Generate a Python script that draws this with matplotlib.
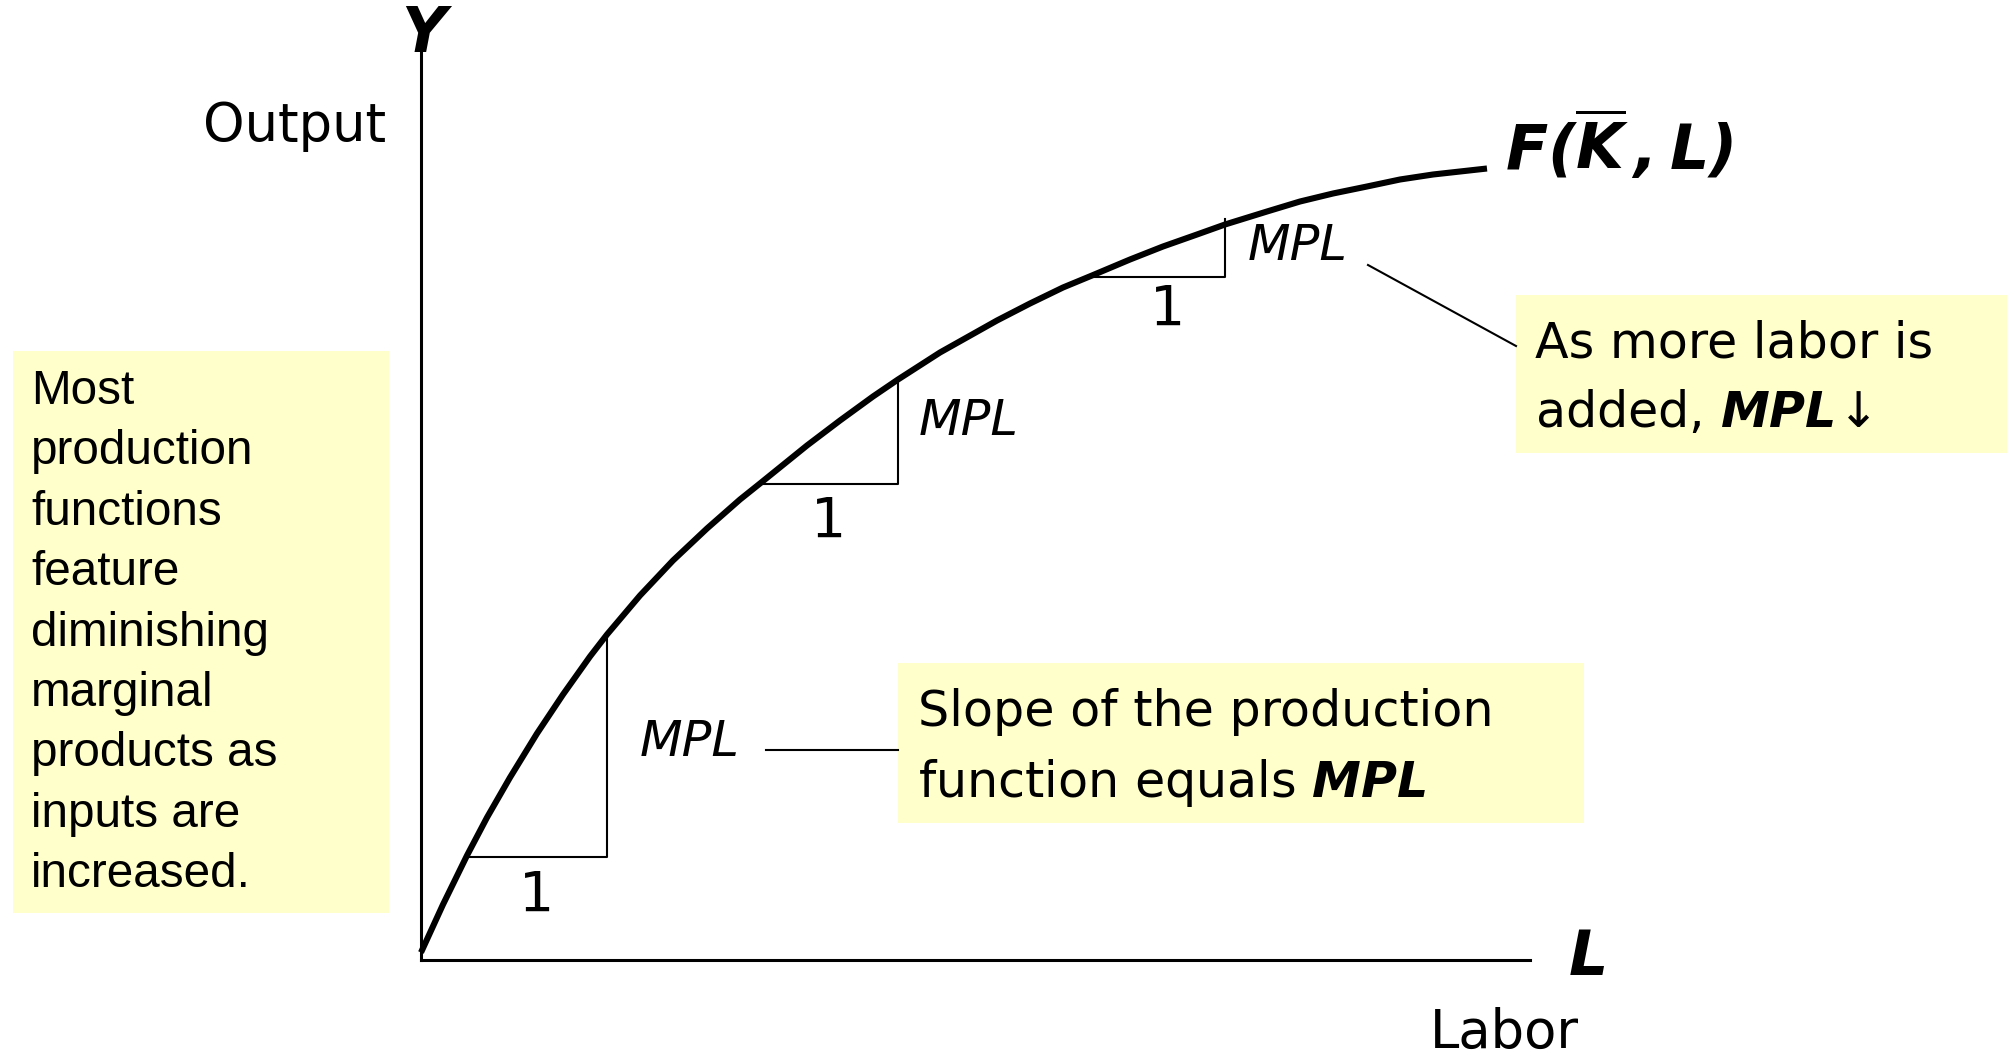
import matplotlib
matplotlib.use("Agg")
import matplotlib.pyplot as plt
from matplotlib import transforms as mtransforms
from matplotlib.patches import Rectangle
from matplotlib.lines import Line2D

# ---------------- data (labor / output units) ----------------
labor = [0.00, 0.22, 0.46, 0.66, 0.89, 1.16, 1.42, 1.69, 1.86, 2.19, 2.52, 2.86,
         3.19, 3.39, 3.86, 4.19, 4.52, 4.77, 5.19, 5.76, 6.09, 6.42, 6.71, 7.09,
         7.42, 7.76, 8.04, 8.46, 8.79, 9.12, 9.46, 9.79, 10.12, 10.66]
output = [0.07, 0.55, 1.04, 1.42, 1.82, 2.26, 2.65, 3.03, 3.25, 3.64, 3.99, 4.31,
          4.60, 4.76, 5.14, 5.39, 5.63, 5.80, 6.07, 6.39, 6.56, 6.72, 6.84, 7.00,
          7.13, 7.25, 7.35, 7.48, 7.58, 7.66, 7.73, 7.80, 7.85, 7.91]

tri_start = [0.46, 3.39, 6.71]   # labor where each unit step starts
tri_end = [1.86, 4.77, 8.04]     # labor where each unit step ends
tri_base = [1.03, 4.76, 6.83]    # output at the start of the step
tri_top = [3.25, 5.80, 7.41]     # output at the end of the step

run_labels = ["1", "1", "1"]
rise_labels = ["MPL", "MPL", "MPL"]
curve_label = r"$\mathbfit{F(\overline{K}\,,L)}$"
x_symbol, y_symbol = "L", "Y"
x_name, y_name = "Labor", "Output"

left_note = ["Most", "production", "functions", "feature", "diminishing",
             "marginal", "products as", "inputs are", "increased."]
slope_note = ["Slope of the production", r"function equals $\mathbfit{MPL}$"]
diminish_note = ["As more labor is", r"added, $\mathbfit{MPL}\!\downarrow$"]

# ---------------- style ----------------
plt.rcParams.update({
    "font.family": ["DejaVu Sans"],
    "mathtext.fontset": "custom",
    "mathtext.rm": "DejaVu Sans",
    "mathtext.it": "DejaVu Sans:italic",
    "mathtext.bf": "DejaVu Sans:bold",
    "mathtext.bfit": "DejaVu Sans:italic:bold",
    "mathtext.sf": "DejaVu Sans",
})

W, H = 2008, 1055
fig = plt.figure(figsize=(W / 100, H / 100), dpi=100)
fig.patch.set_facecolor("white")
px = mtransforms.Affine2D().scale(1 / W, -1 / H).translate(0, 1) + fig.transFigure

ox, oy = 421, 959.5      # origin (pixels)
xr, yt = 1530, 47        # axis ends (pixels)
ax = fig.add_axes([ox / W, 1 - oy / H, (xr - ox) / W, (oy - yt) / H])
ax.set_xlim(0, (xr - ox) / 100)
ax.set_ylim(0, (oy - yt) / 100)
ax.patch.set_alpha(0)
for s in ["top", "right"]:
    ax.spines[s].set_visible(False)
for s in ["left", "bottom"]:
    ax.spines[s].set_linewidth(2.2)
    ax.spines[s].set_color("black")
ax.set_xticks([])
ax.set_yticks([])

# production function
ax.plot(labor, output, color="black", lw=4.4, solid_joinstyle="round",
        solid_capstyle="butt", clip_on=False, zorder=4)

# unit-step triangles
run_offsets = [(0, -39), (0, -38), (9, -33)]
rise_offsets = [(83, 3), (71, 11), (73, 1)]
for i in range(len(tri_start)):
    ax.plot([tri_start[i], tri_end[i], tri_end[i]],
            [tri_base[i], tri_base[i], tri_top[i]],
            color="black", lw=1.5, zorder=3, clip_on=False)
    ax.annotate(run_labels[i], xy=((tri_start[i] + tri_end[i]) / 2, tri_base[i]),
                xytext=run_offsets[i], textcoords="offset pixels",
                ha="center", va="center", fontsize=40)
    ax.annotate(rise_labels[i], xy=(tri_end[i], (tri_base[i] + tri_top[i]) / 2),
                xytext=rise_offsets[i], textcoords="offset pixels",
                ha="center", va="center", fontsize=35.6, style="italic")

# axis symbols and names
ax.text(423, 35, y_symbol, transform=px, fontsize=44.6, fontweight="bold",
        style="italic", ha="center", va="center", clip_on=False)
ax.text(1588, 958, x_symbol, transform=px, fontsize=44.6, fontweight="bold",
        style="italic", ha="center", va="center", clip_on=False)
ax.text(295, 141, y_name, transform=px, fontsize=38, ha="center",
        va="baseline", clip_on=False)
ax.text(1504, 1048, x_name, transform=px, fontsize=38, ha="center",
        va="baseline", clip_on=False)
ax.text(1505, 170, curve_label, transform=px, fontsize=44.6, ha="left",
        va="baseline", clip_on=False)

# note boxes
box_color = "#FFFFCC"
ax.add_patch(Rectangle((13, 351), 376, 562, transform=px, facecolor=box_color,
                       edgecolor="none", clip_on=False, zorder=0))
ax.add_patch(Rectangle((898, 663), 686, 160, transform=px, facecolor=box_color,
                       edgecolor="none", clip_on=False, zorder=0))
ax.add_patch(Rectangle((1516, 295), 492, 158, transform=px, facecolor=box_color,
                       edgecolor="none", clip_on=False, zorder=0))

for i, line in enumerate(left_note):
    ax.text(31, 404 + i * 60.4, line, transform=px, fontsize=34.3,
            family="Liberation Sans", ha="left", va="baseline", clip_on=False)
for i, line in enumerate(slope_note):
    ax.text(918, 726 + i * 71, line, transform=px, fontsize=35.4,
            ha="left", va="baseline", clip_on=False)
for i, line in enumerate(diminish_note):
    ax.text(1535, 357 + i * 70, line, transform=px, fontsize=35.4,
            ha="left", va="baseline", clip_on=False)

# leader lines
ax.add_line(Line2D([766, 898], [750, 750], transform=px, color="black",
                   lw=1.5, clip_on=False))
ax.add_line(Line2D([1368, 1516], [265, 346], transform=px, color="black",
                   lw=1.5, clip_on=False))

fig.savefig("out.png", dpi=100, facecolor="white")
